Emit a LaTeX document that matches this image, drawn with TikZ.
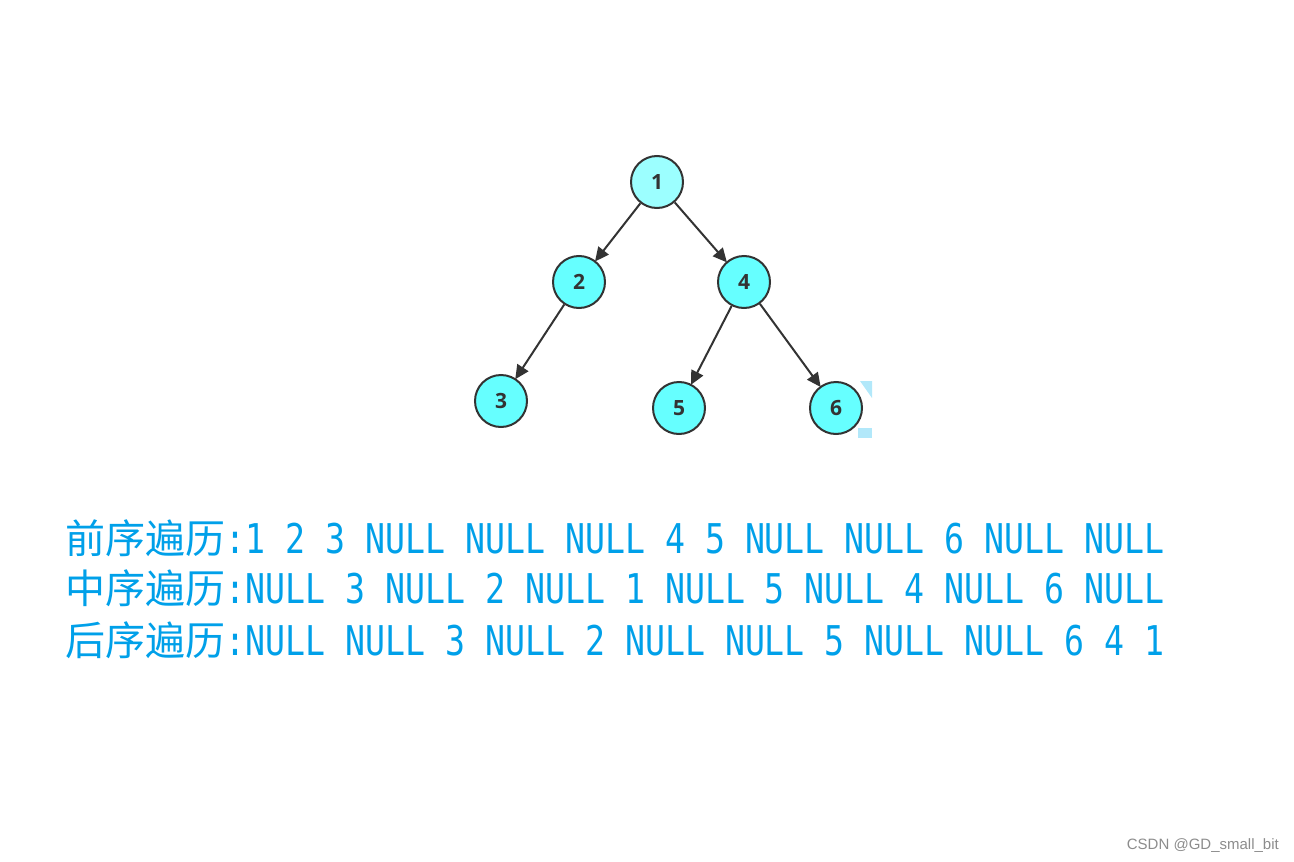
\documentclass[tikz,border=0pt]{standalone}
\usepackage{fontspec}
\usetikzlibrary{arrows.meta}
\newfontfamily\cjkfont{Noto Sans CJK SC}
\newfontfamily\monofont[FakeStretch=0.81]{DejaVu Sans Mono}
\newfontfamily\labfont{Open Sans}
\setmainfont{Liberation Sans}
\definecolor{txtblue}{RGB}{0,160,233}
\definecolor{nodefill}{RGB}{102,255,255}
\definecolor{rootfill}{RGB}{156,255,255}
\definecolor{edgegray}{RGB}{51,51,51}
\definecolor{handle}{RGB}{178,232,250}
\tikzset{
  treenode/.style={circle, draw=edgegray, line width=2pt, fill=nodefill, minimum size=52pt, inner sep=0pt,
    font=\labfont\bfseries\fontsize{21}{21}\selectfont, text=edgegray},
  edge/.style={draw=edgegray, line width=2pt, -{Triangle[length=14pt,width=13pt]}, shorten >=-1pt},
  travline/.style={anchor=base west, inner sep=0pt, text=txtblue},
}
\newcommand{\cjk}[1]{{\cjkfont\fontsize{40}{40}\selectfont #1}}
\newcommand{\mtx}[1]{{\monofont\fontsize{41}{41}\selectfont #1}}
\begin{document}
\begin{tikzpicture}[x=1pt,y=-1pt]
\useasboundingbox (0,0) rectangle (1294,862);
% tree
\node[treenode, fill=rootfill] (n1) at (657,182) {1};
\node[treenode] (n2) at (579,282) {2};
\node[treenode] (n4) at (744,282) {4};
\node[treenode] (n3) at (501,401) {3};
\node[treenode] (n5) at (679,408) {5};
\node[treenode] (n6) at (836,408) {6};
\draw[edge] (n1) -- (n2);
\draw[edge] (n1) -- (n4);
\draw[edge] (n2) -- (n3);
\draw[edge] (n4) -- (n5);
\draw[edge] (n4) -- (n6);
% selection handle remnants
\fill[handle] (860,381) -- (872,381) -- (872,398) -- cycle;
\fill[handle] (858,428) rectangle (872,438);
% traversal lines
\node[travline] (pre) at (65,553) {\cjk{前序遍历}\mtx{:1 2 3 NULL NULL NULL 4 5 NULL NULL 6 NULL NULL}};
\node[travline] (in) at (65,603) {\cjk{中序遍历}\mtx{:NULL 3 NULL 2 NULL 1 NULL 5 NULL 4 NULL 6 NULL}};
\node[travline] (post) at (65,655) {\cjk{后序遍历}\mtx{:NULL NULL 3 NULL 2 NULL NULL 5 NULL NULL 6 4 1}};
% watermark
\node[anchor=base east, inner sep=0pt, text=black!45, font=\fontsize{15}{15}\selectfont] (wm) at (1279,849) {CSDN @GD\_small\_bit};
\end{tikzpicture}
\end{document}
